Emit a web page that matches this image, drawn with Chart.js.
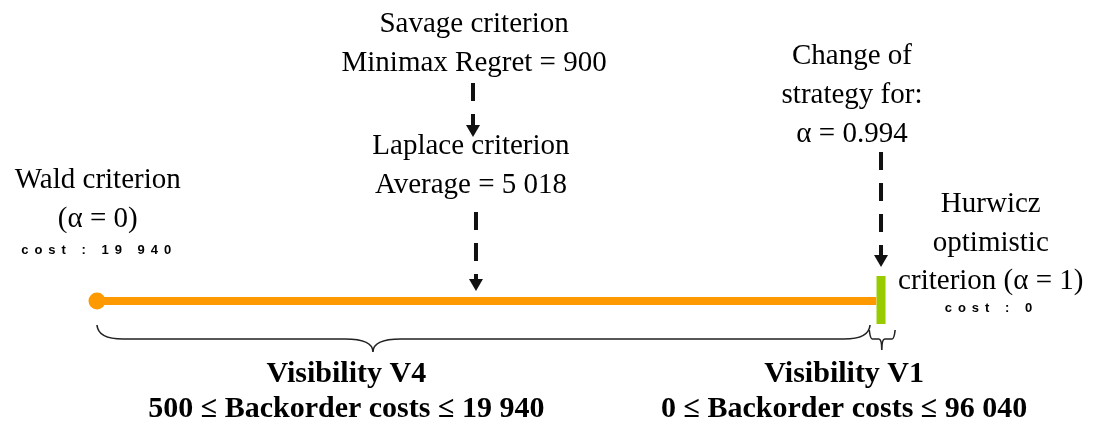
<!DOCTYPE html>
<html>
<head>
<meta charset="utf-8">
<title>Decision criteria</title>
<script src="https://cdn.jsdelivr.net/npm/chart.js@4/dist/chart.umd.min.js"></script>
<style>
  body { margin: 0; background: #fff; }
  #wrap { width: 1096px; height: 425px; position: relative; }
</style>
</head>
<body>
<div id="wrap"><canvas id="criteriaChart"></canvas></div>
<script>
// Datos del esquema (valores de alpha)
const alphaValues = [0, 0.994, 1];      // Wald, cambio de estrategia, Hurwicz
const strategyAlpha = [0, 0.994];        // tramo naranja (Visibility V4)
const hurwiczAlpha = [1, 1];             // tramo verde (Visibility V1)

// Textos
const waldText = ["Wald criterion", "(\u03b1 = 0)"];
const waldCost = "cost : 19 940";
const savageText = ["Savage criterion", "Minimax Regret = 900"];
const laplaceText = ["Laplace criterion", "Average = 5 018"];
const changeText = ["Change of", "strategy for:", "\u03b1 = 0.994"];
const hurwiczText = ["Hurwicz", "optimistic", "criterion (\u03b1 = 1)"];
const hurwiczCost = "cost : 0";
const visibilityV4 = ["Visibility V4", "500 \u2264 Backorder costs \u2264 19 940"];
const visibilityV1 = ["Visibility V1", "0 \u2264 Backorder costs \u2264 96 040"];

// Colores
const orange = "#FF9900";
const green = "#99CC00";
const ink = "#111";

document.addEventListener("DOMContentLoaded", function () {
  const ctx = document.getElementById("criteriaChart").getContext("2d");

  // bloques de texto: x en alpha, y = nivel de la primera línea base
  const textBlocks = [
    { lines: savageText, x: 0.481, y: 269, step: 39 },
    { lines: laplaceText, x: 0.477, y: 147, step: 39 },
    { lines: waldText, x: 0.001, y: 113, step: 39 },
    { lines: changeText, x: 0.963, y: 237, step: 39 },
    { lines: hurwiczText, x: 1.14, y: 89, step: 38.5 },
    { lines: visibilityV4, x: 0.318, y: -81, step: 35, bold: true },
    { lines: visibilityV1, x: 0.953, y: -81, step: 35, bold: true },
  ];
  const costLabels = [
    { text: waldCost, x: -0.001, y: 47 },
    { text: hurwiczCost, x: 1.137, y: -11 },
  ];
  const arrows = [
    { x: 0.4796, from: 218, to: 164 },
    { x: 0.4834, from: 89, to: 10 },
    { x: alphaValues[2], from: 149, to: 34 },
  ];
  const braces = [
    { x1: alphaValues[0], x2: 0.986, tip: 0.352, top: -24, mid: -38, end: -51, r1: 26, r2: 28 },
    { x1: 0.985, x2: 1.018, tip: 1.001, top: -29, mid: -38, end: -49, r1: 3, r2: 3 },
  ];

  const annotations = {
    id: "annotations",
    afterDatasetsDraw(chart) {
      const c = chart.ctx;
      const xs = chart.scales.x;
      const ys = chart.scales.y;
      const px = (v) => xs.getPixelForValue(v);
      const py = (v) => ys.getPixelForValue(v);

      c.save();

      // flechas discontinuas
      arrows.forEach((a) => {
        const x = px(a.x);
        const y0 = py(a.from);
        const tip = py(a.to);
        const head = 12;
        c.strokeStyle = ink;
        c.lineWidth = 4;
        c.setLineDash([18, 13]);
        c.beginPath();
        c.moveTo(x, y0);
        c.lineTo(x, tip - head);
        c.stroke();
        c.setLineDash([]);
        c.fillStyle = ink;
        c.beginPath();
        c.moveTo(x - 7, tip - head);
        c.lineTo(x + 7, tip - head);
        c.lineTo(x, tip);
        c.closePath();
        c.fill();
      });

      // llaves
      c.strokeStyle = "#222";
      c.lineWidth = 1.6;
      braces.forEach((b) => {
        const x1 = px(b.x1), x2 = px(b.x2), xt = px(b.tip);
        const yTop = py(b.top), yMid = py(b.mid), yEnd = py(b.end);
        c.beginPath();
        c.moveTo(x1, yTop);
        c.quadraticCurveTo(x1 + 1, yMid, x1 + b.r1, yMid);
        c.lineTo(xt - b.r2, yMid);
        c.quadraticCurveTo(xt, yMid, xt, yEnd);
        c.quadraticCurveTo(xt, yMid, xt + b.r2, yMid);
        c.lineTo(x2 - b.r1, yMid);
        c.quadraticCurveTo(x2 - 1, yMid, x2, yTop);
        c.stroke();
      });

      // textos
      c.fillStyle = "#000";
      c.textAlign = "center";
      c.textBaseline = "alphabetic";
      textBlocks.forEach((t) => {
        c.font = (t.bold ? "bold 30px" : "29px") + ' "Liberation Serif", "Times New Roman", serif';
        t.lines.forEach((line, i) => {
          c.fillText(line, px(t.x), py(t.y - i * t.step));
        });
      });

      // etiquetas de coste (espaciadas)
      c.font = 'bold 13px "Liberation Sans", Arial, sans-serif';
      c.letterSpacing = "6px";
      costLabels.forEach((l) => {
        c.fillText(l.text, px(l.x) + 3, py(l.y));
      });
      c.letterSpacing = "0px";

      c.restore();
    },
  };

  new Chart(ctx, {
    type: "line",
    data: {
      datasets: [
        {
          label: "Visibility V4",
          data: strategyAlpha.map((a) => ({ x: a, y: 0 })),
          borderColor: orange,
          borderWidth: 8,
          borderCapStyle: "butt",
          pointRadius: [8.5, 0],
          pointBackgroundColor: orange,
          pointBorderWidth: 0,
        },
        {
          label: "Visibility V1",
          data: hurwiczAlpha.map((a, i) => ({ x: a, y: i === 0 ? -23 : 25 })),
          borderColor: green,
          borderWidth: 9,
          borderCapStyle: "butt",
          pointRadius: 0,
        },
      ],
    },
    options: {
      responsive: true,
      maintainAspectRatio: false,
      animation: false,
      events: [],
      layout: { padding: 0, autoPadding: false },
      plugins: {
        legend: { display: false },
        tooltip: { enabled: false },
      },
      scales: {
        x: { type: "linear", min: -0.1237, max: 1.2742, display: false },
        y: { type: "linear", min: -124, max: 301, display: false },
      },
    },
    plugins: [annotations],
  });
});
</script>
</body>
</html>
